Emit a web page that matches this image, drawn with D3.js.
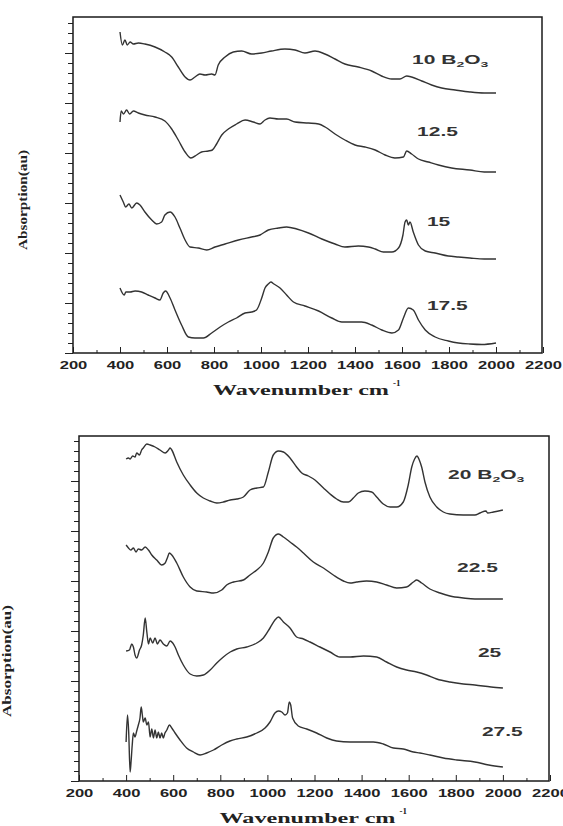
<!DOCTYPE html>
<html>
<head>
<meta charset="utf-8">
<script src="https://cdn.jsdelivr.net/npm/d3@7"></script>
<style>
body { margin: 0; background: #fff; }
svg { display: block; }
.tick text { font-family: "Liberation Sans", Arial, sans-serif; font-weight: bold; font-size: 10px; fill: #222; }
.tick line { stroke: #222; }
.spec { fill: none; stroke: #333; stroke-width: 1.4; stroke-linejoin: round; }
.title { font-family: "Liberation Serif", "Times New Roman", serif; font-weight: bold; fill: #222; }
.lbl { font-family: "Liberation Sans", Arial, sans-serif; font-weight: bold; font-size: 12px; fill: #333; }
</style>
</head>
<body>
<svg id="chart" width="563" height="826"></svg>
<script>
var xTicks = [200, 400, 600, 800, 1000, 1200, 1400, 1600, 1800, 2000, 2200];

// upper panel, 10 - 17.5 mol% B2O3  [wavenumber, absorbance a.u.]
var s10 = [[400,3.21],[410,3.08],[421,3.13],[431,3.08],[443,3.11],[457,3.09],[478,3.10],[506,3.09],[549,3.06],[591,3.01],[620,2.96],[648,2.86],[677,2.76],[698,2.73],[719,2.76],[740,2.79],[762,2.78],[790,2.79],[804,2.78],[818,2.88],[847,2.96],[882,3.01],[918,3.02],[960,2.99],[1003,3.00],[1045,3.02],[1102,3.04],[1145,3.03],[1187,3.00],[1230,3.02],[1272,2.99],[1315,2.94],[1357,2.89],[1414,2.86],[1471,2.82],[1513,2.77],[1556,2.74],[1591,2.74],[1620,2.77],[1641,2.76],[1684,2.72],[1726,2.68],[1769,2.65],[1826,2.63],[1889,2.61],[1950,2.60],[2000,2.60]];
var s125 = [[400,2.31],[405,2.42],[415,2.39],[428,2.43],[441,2.39],[457,2.42],[478,2.40],[506,2.38],[549,2.36],[591,2.32],[620,2.24],[648,2.13],[677,2.01],[702,1.95],[726,1.98],[747,2.01],[776,2.02],[793,2.03],[811,2.09],[833,2.18],[861,2.24],[896,2.29],[932,2.33],[967,2.31],[996,2.29],[1017,2.33],[1038,2.35],[1074,2.34],[1109,2.34],[1145,2.31],[1202,2.30],[1245,2.29],[1273,2.26],[1315,2.19],[1357,2.13],[1400,2.08],[1443,2.06],[1486,2.03],[1528,1.98],[1570,1.95],[1606,1.96],[1620,2.02],[1641,1.99],[1670,1.94],[1712,1.91],[1755,1.88],[1811,1.85],[1889,1.83],[1950,1.81],[2000,1.81]];
var s15 = [[400,1.58],[414,1.51],[424,1.46],[438,1.49],[450,1.45],[471,1.50],[485,1.48],[506,1.41],[535,1.33],[556,1.29],[577,1.31],[591,1.38],[613,1.41],[634,1.36],[655,1.25],[677,1.13],[698,1.06],[733,1.05],[769,1.03],[804,1.06],[847,1.09],[904,1.13],[960,1.16],[996,1.18],[1031,1.23],[1074,1.25],[1109,1.26],[1152,1.24],[1202,1.20],[1259,1.14],[1315,1.09],[1357,1.06],[1414,1.07],[1457,1.06],[1486,1.04],[1521,1.01],[1557,1.01],[1585,1.05],[1604,1.18],[1613,1.31],[1620,1.33],[1627,1.28],[1634,1.31],[1648,1.21],[1670,1.08],[1699,1.02],[1741,1.00],[1797,0.97],[1840,0.96],[1889,0.95],[1950,0.94],[2000,0.94]];
var s175 = [[400,0.65],[418,0.58],[425,0.61],[443,0.61],[464,0.62],[492,0.61],[520,0.58],[549,0.55],[570,0.53],[584,0.60],[594,0.62],[613,0.55],[634,0.43],[662,0.28],[691,0.16],[719,0.15],[755,0.15],[790,0.20],[826,0.26],[861,0.31],[896,0.35],[932,0.40],[960,0.41],[981,0.43],[1003,0.55],[1017,0.65],[1031,0.69],[1042,0.71],[1055,0.69],[1081,0.65],[1109,0.58],[1138,0.51],[1187,0.47],[1245,0.42],[1301,0.35],[1344,0.31],[1386,0.31],[1428,0.31],[1471,0.28],[1514,0.23],[1557,0.20],[1585,0.23],[1606,0.35],[1627,0.45],[1648,0.43],[1670,0.33],[1699,0.23],[1741,0.16],[1797,0.12],[1840,0.10],[1889,0.09],[1940,0.085],[2000,0.10]];

// lower panel, 20 - 27.5 mol% B2O3
var s20 = [[400,3.22],[410,3.23],[417,3.22],[428,3.25],[438,3.24],[445,3.28],[457,3.26],[466,3.31],[473,3.33],[488,3.37],[502,3.36],[523,3.34],[544,3.31],[566,3.28],[580,3.31],[587,3.33],[594,3.31],[615,3.19],[643,3.06],[672,2.96],[700,2.88],[728,2.83],[757,2.80],[785,2.78],[813,2.79],[842,2.81],[870,2.82],[898,2.84],[926,2.91],[955,2.93],[983,2.94],[1004,3.09],[1025,3.26],[1047,3.30],[1068,3.29],[1096,3.23],[1124,3.14],[1146,3.08],[1174,3.05],[1202,3.01],[1238,2.93],[1266,2.87],[1294,2.82],[1323,2.79],[1344,2.79],[1365,2.83],[1386,2.88],[1414,2.90],[1443,2.89],[1464,2.84],[1492,2.77],[1521,2.74],[1549,2.74],[1577,2.79],[1598,2.96],[1613,3.14],[1625,3.22],[1635,3.25],[1645,3.21],[1655,3.14],[1669,2.99],[1690,2.84],[1719,2.74],[1747,2.69],[1775,2.67],[1832,2.66],[1881,2.66],[1903,2.68],[1928,2.70],[1935,2.68],[1960,2.69],[2000,2.71]];
var s225 = [[400,2.36],[410,2.33],[420,2.31],[431,2.33],[442,2.29],[452,2.32],[466,2.31],[481,2.34],[495,2.31],[509,2.26],[530,2.21],[551,2.16],[566,2.18],[575,2.23],[584,2.28],[594,2.26],[615,2.18],[643,2.04],[672,1.94],[700,1.90],[742,1.89],[771,1.88],[806,1.91],[827,1.96],[856,1.99],[898,2.01],[926,2.06],[955,2.11],[983,2.18],[1004,2.29],[1025,2.43],[1047,2.47],[1068,2.44],[1096,2.39],[1124,2.34],[1153,2.28],[1195,2.19],[1238,2.13],[1280,2.06],[1323,2.00],[1351,1.98],[1379,1.99],[1421,2.00],[1464,1.99],[1506,1.96],[1549,1.93],[1591,1.94],[1620,1.99],[1634,2.01],[1655,1.98],[1690,1.92],[1733,1.88],[1775,1.85],[1832,1.83],[1881,1.82],[1950,1.82],[2000,1.82]];
var s25 = [[400,1.30],[414,1.31],[424,1.37],[431,1.34],[438,1.26],[445,1.23],[457,1.31],[466,1.36],[473,1.46],[481,1.63],[488,1.49],[495,1.37],[502,1.43],[513,1.38],[523,1.43],[533,1.37],[544,1.41],[558,1.37],[573,1.35],[587,1.40],[598,1.38],[608,1.34],[622,1.26],[643,1.16],[672,1.07],[700,1.05],[728,1.06],[757,1.11],[785,1.18],[813,1.24],[842,1.29],[870,1.32],[912,1.34],[955,1.38],[983,1.43],[1011,1.53],[1032,1.61],[1047,1.64],[1068,1.59],[1096,1.53],[1124,1.44],[1153,1.42],[1181,1.39],[1223,1.34],[1266,1.29],[1308,1.24],[1351,1.24],[1408,1.25],[1464,1.24],[1506,1.19],[1549,1.14],[1591,1.11],[1634,1.09],[1676,1.06],[1719,1.02],[1775,0.99],[1832,0.97],[1881,0.96],[1950,0.94],[2000,0.93]];
var s275 = [[400,0.39],[406,0.66],[411,0.49],[417,0.09],[421,0.19],[426,0.36],[431,0.48],[438,0.44],[445,0.50],[452,0.56],[459,0.63],[464,0.74],[469,0.66],[473,0.59],[481,0.63],[488,0.56],[495,0.59],[502,0.44],[509,0.52],[516,0.43],[523,0.51],[530,0.43],[537,0.49],[544,0.43],[551,0.48],[558,0.43],[565,0.48],[573,0.51],[584,0.56],[594,0.53],[608,0.48],[629,0.41],[657,0.33],[686,0.29],[714,0.26],[742,0.28],[771,0.31],[806,0.36],[841,0.40],[870,0.42],[912,0.44],[955,0.48],[990,0.53],[1011,0.59],[1032,0.68],[1047,0.70],[1061,0.69],[1075,0.66],[1085,0.68],[1093,0.79],[1099,0.76],[1107,0.63],[1131,0.55],[1167,0.52],[1209,0.48],[1252,0.43],[1294,0.40],[1351,0.39],[1408,0.39],[1450,0.39],[1492,0.37],[1535,0.33],[1577,0.32],[1620,0.29],[1648,0.28],[1690,0.26],[1747,0.23],[1804,0.21],[1881,0.19],[1940,0.16],[2000,0.14]];

var topNames = ["10 B2O3", "12.5", "15", "17.5"];
var bottomNames = ["20 B2O3", "22.5", "25", "27.5"];

var svg = d3.select("#chart");

function drawPanel(p) {
    var x = d3.scaleLinear().domain([200, 2200]).range([p.left, p.right]),
        y = d3.scaleLinear().domain([0, p.yMax]).range([p.bottom, p.top]);

    var g = svg.append("g");

    // y ticks, no labels
    var yMinor = d3.range(0, p.yMax, 0.1),
        yMajor = d3.range(0, p.yMax, 0.5);
    g.append("g")
        .attr("transform", "translate(" + p.left + ",0)")
        .call(d3.axisLeft(y).tickValues(yMinor).tickSize(5).tickFormat(""))
        .call(function(s) { s.select(".domain").remove(); });
    g.append("g")
        .attr("transform", "translate(" + p.left + ",0)")
        .call(d3.axisLeft(y).tickValues(yMajor).tickSize(8).tickFormat(""))
        .call(function(s) { s.select(".domain").remove(); });

    // x ticks
    g.append("g")
        .attr("transform", "translate(0," + p.bottom + ")")
        .call(d3.axisBottom(x).tickValues(d3.range(300, 2200, 200)).tickSize(-3).tickFormat(""))
        .call(function(s) { s.select(".domain").remove(); });
    var xa = g.append("g")
        .attr("transform", "translate(0," + p.bottom + ")")
        .call(d3.axisBottom(x).tickValues(xTicks).tickSize(-6).tickPadding(9).tickFormat(d3.format("d")));
    xa.select(".domain").remove();
    xa.selectAll("text")
        .attr("textLength", function(d) { return String(d).length * 9.2; })
        .attr("lengthAdjust", "spacingAndGlyphs");

    g.append("rect")
        .attr("x", p.left).attr("y", p.top)
        .attr("width", p.right - p.left - 1).attr("height", p.bottom - p.top)
        .attr("fill", "none").attr("stroke", "#1a1a1a").attr("stroke-width", 1.5);

    var line = d3.line()
        .curve(d3.curveMonotoneX)
        .x(function(d) { return x(d[0]); })
        .y(function(d) { return y(d[1]); });

    g.selectAll(".spec")
        .data(p.series)
        .enter().append("path")
        .attr("class", "spec")
        .attr("d", line);

    // curve labels
    p.names.forEach(function(name, i) {
        var pos = p.labelPos[i];
        var t = g.append("text")
            .attr("class", "lbl")
            .attr("transform", "translate(" + x(pos[0]) + "," + (y(pos[1]) + 4) + ") scale(1.75,1)");
        var parts = name.split(/([BO])(\d)/);
        var sub = false;
        parts.forEach(function(s, j) {
            if (!s) return;
            if (/^\d$/.test(s) && j % 3 === 2) {
                t.append("tspan").attr("font-size", "8px").attr("dy", 3).text(s);
                sub = true;
            } else {
                t.append("tspan").attr("dy", sub ? -3 : 0).text(s);
                sub = false;
            }
        });
    });

    // axis titles
    var tx = (p.left + p.right) / 2 - 95;
    g.append("text")
        .attr("class", "title")
        .attr("x", tx).attr("y", p.bottom + 42)
        .attr("font-size", "15px")
        .attr("textLength", 176).attr("lengthAdjust", "spacingAndGlyphs")
        .text("Wavenumber cm");
    g.append("text")
        .attr("class", "title")
        .attr("x", tx + 180).attr("y", p.bottom + 33)
        .attr("font-size", "9px")
        .text("-1");

    g.append("text")
        .attr("class", "title")
        .attr("transform", "translate(" + p.ylx + "," + p.yly + ") rotate(-90)")
        .attr("text-anchor", "middle")
        .attr("font-size", "13px")
        .attr("textLength", p.yll).attr("lengthAdjust", "spacingAndGlyphs")
        .text("Absorption(au)");
}

drawPanel({
    left: 73, right: 543, top: 17, bottom: 353, yMax: 3.36,
    series: [s10, s125, s15, s175],
    names: topNames,
    labelPos: [[1643, 2.93], [1664, 2.21], [1706, 1.31], [1706, 0.47]],
    ylx: 27, yly: 200, yll: 100
});

drawPanel({
    left: 79, right: 550, top: 436, bottom: 781, yMax: 3.45,
    series: [s20, s225, s25, s275],
    names: bottomNames,
    labelPos: [[1767, 3.06], [1805, 2.13], [1894, 1.28], [1911, 0.49]],
    ylx: 11, yly: 661, yll: 112
});
</script>
</body>
</html>
